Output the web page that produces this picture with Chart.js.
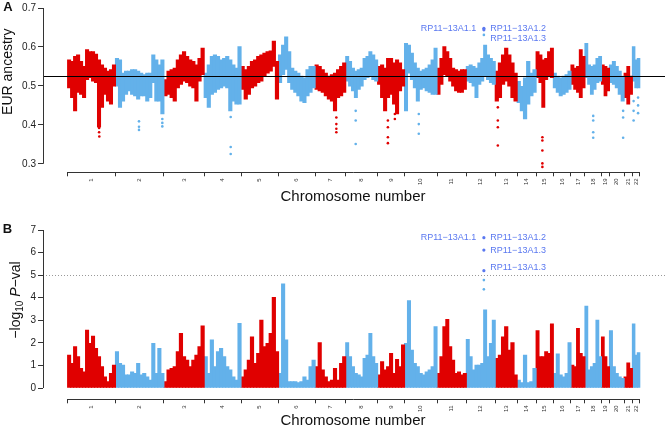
<!DOCTYPE html>
<html>
<head>
<meta charset="utf-8">
<title>EUR ancestry / admixture mapping</title>
<script src="https://cdn.jsdelivr.net/npm/chart.js@4.4.1/dist/chart.umd.min.js"></script>
<style>
  body { margin: 0; background: #fff; }
  #wrap { position: relative; width: 667px; height: 429px; }
  canvas { position: absolute; left: 0; }
</style>
</head>
<body>
<div id="wrap">
  <canvas id="ancChart" width="667" height="210" style="top:0"></canvas>
  <canvas id="pChart" width="667" height="219" style="top:210px"></canvas>
</div>
<script>
// Chromosomes and their widths on the genome axis
const chromosomes = ['1','2','3','4','5','6','7','8','9','10','11','12','13','14','15','16','17','18','19','20','21','22'];
const chrSizes = [48, 48.6, 40.4, 37, 37.6, 36.7, 30.7, 32, 27, 32.6, 29.4, 29, 22, 19, 17.3, 17.7, 14, 16.6, 8, 14.7, 8.3, 7.4];

// Panel A: EUR ancestry, upper and lower edge of the point cloud per window
const ancHi = [
  [0.567,0.563,0.576,0.580,0.563,0.550,0.593,0.588,0.588,0.582,0.567,0.554,0.546,0.538,0.542,0.554],
  [0.571,0.567,0.533,0.538,0.538,0.542,0.542,0.538,0.533,0.529,0.533,0.533,0.580,0.567,0.554,0.567],
  [0.516,0.538,0.542,0.546,0.567,0.580,0.588,0.576,0.567,0.563,0.554,0.571,0.597],
  [0.533,0.554,0.576,0.580,0.576,0.567,0.571,0.576,0.567,0.554,0.546,0.601],
  [0.550,0.542,0.550,0.563,0.567,0.576,0.580,0.584,0.588,0.590,0.615,0.563],
  [0.580,0.605,0.626,0.588,0.546,0.538,0.533,0.525,0.521,0.542,0.550,0.550],
  [0.554,0.550,0.542,0.533,0.525,0.529,0.533,0.542,0.550,0.559],
  [0.576,0.563,0.546,0.538,0.542,0.546,0.571,0.576,0.588,0.580,0.567],
  [0.550,0.554,0.546,0.571,0.571,0.559,0.567,0.559,0.542],
  [0.609,0.605,0.584,0.559,0.546,0.538,0.542,0.546,0.554,0.567,0.597],
  [0.546,0.571,0.601,0.588,0.571,0.546,0.542,0.538,0.542,0.542],
  [0.550,0.554,0.550,0.546,0.559,0.571,0.605,0.580,0.571,0.563],
  [0.538,0.559,0.580,0.597,0.580,0.559,0.533],
  [0.512,0.499,0.521,0.563,0.533,0.542],
  [0.588,0.580,0.567,0.571,0.588,0.597],
  [0.533,0.525,0.521,0.525,0.529,0.538],
  [0.554,0.546,0.550,0.593,0.576],
  [0.609,0.554,0.550,0.554,0.571,0.576],
  [0.554,0.550,0.546],
  [0.554,0.563,0.550,0.538,0.525],
  [0.533,0.550,0.525],
  [0.601,0.567,0.571]
];
const ancLo = [
  [0.495,0.470,0.436,0.483,0.478,0.470,0.516,0.521,0.512,0.508,0.394,0.445,0.478,0.461,0.453,0.499],
  [0.499,0.445,0.461,0.478,0.487,0.478,0.474,0.466,0.474,0.474,0.461,0.470,0.508,0.461,0.461,0.428],
  [0.474,0.478,0.470,0.461,0.495,0.504,0.512,0.508,0.499,0.495,0.461,0.512,0.529],
  [0.470,0.445,0.478,0.483,0.491,0.495,0.499,0.495,0.436,0.461,0.453,0.453],
  [0.491,0.466,0.478,0.495,0.499,0.508,0.512,0.525,0.533,0.538,0.550,0.466],
  [0.508,0.529,0.542,0.508,0.491,0.483,0.474,0.461,0.457,0.474,0.483,0.495],
  [0.491,0.487,0.483,0.474,0.466,0.461,0.436,0.470,0.474,0.483],
  [0.512,0.499,0.487,0.470,0.491,0.499,0.516,0.521,0.525,0.516,0.512],
  [0.504,0.470,0.436,0.470,0.478,0.453,0.428,0.487,0.499],
  [0.436,0.533,0.516,0.495,0.461,0.491,0.495,0.487,0.483,0.478,0.478],
  [0.478,0.504,0.529,0.525,0.512,0.499,0.487,0.483,0.483,0.491],
  [0.512,0.508,0.499,0.470,0.504,0.512,0.525,0.516,0.508,0.504],
  [0.461,0.470,0.504,0.512,0.499,0.470,0.461],
  [0.457,0.436,0.415,0.453,0.474,0.483],
  [0.521,0.508,0.445,0.516,0.525,0.521],
  [0.495,0.483,0.474,0.478,0.483,0.491],
  [0.504,0.491,0.483,0.470,0.495],
  [0.521,0.504,0.478,0.491,0.508,0.512],
  [0.504,0.474,0.487],
  [0.508,0.504,0.495,0.478,0.461],
  [0.470,0.453,0.478],
  [0.512,0.495,0.495]
];
// single SNPs lying away from the cloud (genome position, value, chromosome)
const ancOutX = [31.6,31.6,31.8, 71.6,71.6,71.6, 95,95,95, 163.6,163.6,163.6, 269.6,269.6,269.6,269.6, 289,289,289,
  321.3,321.3,321.3,321.3, 328.3,328.3, 352.3,352.3,352.3, 431.6,431.6,431.6,431.6, 476.3,476.3,476.3,476.3,476.3,
  527.3,527.3,527.3,527.3, 557.3,557.3,557.3, 567.8,567.8,567.8, 572.3,572.3,572.3, 417.6];
const ancOutY = [0.392,0.381,0.370, 0.409,0.395,0.387, 0.415,0.405,0.396, 0.420,0.343,0.325, 0.419,0.402,0.390,0.381, 0.436,0.411,0.351,
  0.411,0.394,0.368,0.353, 0.428,0.415, 0.428,0.402,0.377, 0.445,0.411,0.394,0.347, 0.368,0.360,0.334,0.301,0.292,
  0.423,0.411,0.381,0.367, 0.436,0.419,0.367, 0.461,0.436,0.411, 0.470,0.450,0.430, 0.631];
const ancOutChr = [1,1,1, 2,2,2, 2,2,2, 4,4,4, 7,7,7,7, 8,8,8, 9,9,9,9, 9,9, 10,10,10, 13,13,13,13, 15,15,15,15,15,
  18,18,18,18, 20,20,20, 22,22,22, 22,22,22, 12];

// Panel B: -log10 P, top of the point cloud per window
const logP = [
  [1.46,1.09,1.83,1.39,0.87,0.72,2.57,1.98,2.30,1.76,1.39,0.95,0.50,0.28,0.65,1.02],
  [1.61,1.09,1.02,0.58,0.58,0.72,0.65,1.09,0.58,0.65,0.50,0.35,1.98,0.65,1.76,0.65],
  [0.28,0.80,0.87,0.95,1.61,2.42,1.39,1.24,0.95,1.24,1.46,1.83,2.75],
  [1.39,0.65,2.13,0.95,1.61,1.76,1.39,0.95,0.80,0.50,0.35,2.87],
  [0.50,0.80,1.24,2.27,1.09,1.54,3.01,1.83,1.98,2.42,4.02,1.61],
  [0.65,4.61,2.13,0.28,0.28,0.28,0.24,0.28,0.50,0.35,0.95,1.24],
  [0.95,2.01,0.80,0.50,0.28,0.35,0.87,0.35,1.09,1.39],
  [2.01,1.39,0.95,0.65,0.58,0.50,1.31,1.46,2.42,1.39,1.09],
  [0.58,1.17,0.80,0.95,1.54,0.65,1.27,0.95,1.91],
  [1.98,3.87,1.68,1.09,0.95,0.65,0.58,0.72,0.80,0.95,2.72],
  [0.65,1.39,2.72,3.04,1.83,1.24,0.65,0.72,0.58,0.65],
  [2.16,1.39,0.80,1.02,1.02,1.09,3.46,1.39,1.98,3.01],
  [1.31,1.46,2.27,2.72,1.68,2.01,0.58],
  [0.35,0.24,1.46,0.24,0.28,0.87],
  [2.54,1.39,1.39,1.61,1.54,2.84],
  [0.65,1.51,0.58,0.50,0.65,2.01],
  [1.02,0.95,2.64,1.54,1.39],
  [3.63,0.80,0.95,1.09,3.01,1.39],
  [2.27,1.39,0.95],
  [2.54,0.95,0.65,0.50,0.43],
  [0.50,1.12,0.87],
  [2.84,1.46,1.57]
];
const logOutX = [417.6, 417.6];
const logOutY = [4.78, 4.37];
const logOutChr = [12, 12];

// RP11-13A1 hits and their labels
const hitX = 417.6;
const ancHitY = [0.648, 0.644];
const logHitY = [6.66, 6.11, 5.20];
const hitLabels = ['RP11\u221213A1.1', 'RP11\u221213A1.2', 'RP11\u221213A1.3', 'RP11\u221213A1.3'];
const labelSide = ['left', 'right', 'right', 'right'];
const ancLabelY = [0.6475, 0.6475, 0.622];
const logLabelY = [6.66, 6.66, 6.11, 5.33];

const ancTicks = [0.3, 0.4, 0.5, 0.6, 0.7];
const logTicks = [0, 1, 2, 3, 4, 5, 6, 7];
const ancMean = 0.524;
const pThreshold = 5;

const RED = '#e00000', BLUE = '#63b1ea', HIT = '#5a78f0';
const FONT = '"Liberation Sans", Arial, sans-serif';
const colorOf = i => (i % 2 === 0 ? RED : BLUE);

const chrStart = [];
const total = chrSizes.reduce((acc, s) => { chrStart.push(acc); return acc + s; }, 0);

Chart.defaults.font.family = FONT;
Chart.defaults.color = '#222';

// one bar dataset per chromosome (floating when lo is given)
function bandSets(hi, lo) {
  return chromosomes.map((name, i) => {
    const step = chrSizes[i] / hi[i].length;
    return {
      type: 'bar',
      order: 2,
      grouped: false,
      barThickness: step + 0.4,
      borderWidth: 0,
      backgroundColor: colorOf(i),
      data: hi[i].map((h, j) => ({ x: chrStart[i] + (j + 0.5) * step, y: lo ? [lo[i][j], h] : h }))
    };
  });
}

function pointSet(xs, ys, chrs) {
  return {
    type: 'scatter',
    order: 1,
    data: xs.map((x, k) => ({ x: x, y: ys[k] })),
    pointRadius: 1.3,
    pointBorderWidth: 0,
    pointBackgroundColor: chrs.map(c => colorOf(c - 1))
  };
}

function hitSet(ys) {
  return {
    type: 'scatter',
    order: 0,
    data: ys.map(y => ({ x: hitX, y: y })),
    pointRadius: 1.6,
    pointBorderWidth: 0,
    pointBackgroundColor: HIT
  };
}

// reference line, R-style axis lines, panel letter, y title, hit labels
const panelDecor = {
  id: 'panelDecor',
  afterDatasetsDraw(chart, args, o) {
    const { ctx, chartArea: a, scales: { y } } = chart;
    const py = Math.round(y.getPixelForValue(o.refValue) - 0.5) + 0.5;
    ctx.save();
    ctx.strokeStyle = o.refColor;
    ctx.lineWidth = 1;
    ctx.setLineDash(o.refDash);
    ctx.beginPath();
    ctx.moveTo(a.left, py);
    ctx.lineTo(o.refEnd, py);
    ctx.stroke();
    ctx.restore();
  },
  afterDraw(chart, args, o) {
    const { ctx, chartArea: a, scales: { x, y } } = chart;
    ctx.save();
    ctx.strokeStyle = '#333';
    ctx.lineWidth = 1;
    const ax = Math.round(a.left - 0.5) + 0.5;
    const ay = Math.round(a.bottom - 0.5) + 0.5;
    ctx.beginPath();
    ctx.moveTo(ax, y.getPixelForValue(o.ticks[0]));
    ctx.lineTo(ax, y.getPixelForValue(o.ticks[o.ticks.length - 1]));
    ctx.moveTo(x.getPixelForValue(0), ay);
    ctx.lineTo(x.getPixelForValue(total), ay);
    ctx.stroke();

    ctx.fillStyle = '#111';
    ctx.textAlign = 'center';
    ctx.textBaseline = 'middle';
    ctx.font = 'bold 13px ' + FONT;
    ctx.fillText(o.letter, o.letterX, o.letterY);

    o.drawTitle(ctx);

    ctx.fillStyle = HIT;
    ctx.font = '9px ' + FONT;
    const hx = x.getPixelForValue(hitX);
    o.labelY.forEach((v, k) => {
      const left = labelSide[k] === 'left';
      ctx.textAlign = left ? 'right' : 'left';
      ctx.fillText(hitLabels[k], hx + (left ? -7.5 : 6.4), y.getPixelForValue(v));
    });
    ctx.restore();
  }
};

function panelOptions(o) {
  return {
    responsive: false,
    animation: false,
    events: [],
    layout: { padding: { top: o.padTop, right: 2, left: 0, bottom: 0 } },
    plugins: { legend: { display: false }, tooltip: { enabled: false }, panelDecor: o },
    scales: {
      x: {
        type: 'linear',
        min: -24.7,
        max: total + 23.3,
        offset: false,
        afterBuildTicks: s => {
          const t = [];
          chrStart.forEach((st, i) => { t.push({ value: st }); t.push({ value: st + chrSizes[i] / 2 }); });
          t.push({ value: total });
          s.ticks = t;
        },
        afterFit: s => { s.height = o.xAxisHeight; },
        border: { display: false },
        grid: {
          offset: false,
          drawOnChartArea: false,
          tickLength: 4,
          tickWidth: 1,
          tickColor: c => (c.index % 2 ? 'rgba(0,0,0,0)' : '#333')
        },
        ticks: {
          autoSkip: false,
          minRotation: 90,
          maxRotation: 90,
          padding: 2,
          color: '#333',
          font: { size: 6 },
          callback: (v, i) => (i % 2 ? chromosomes[(i - 1) / 2] : '')
        },
        title: {
          display: true,
          text: 'Chromosome number',
          color: '#111',
          font: { size: 15, lineHeight: 1 },
          padding: { top: 0, bottom: o.titlePad }
        }
      },
      y: {
        min: o.yMin,
        max: o.yMax,
        afterBuildTicks: s => { s.ticks = o.ticks.map(v => ({ value: v })); },
        afterFit: s => { s.width = 43; },
        border: { display: false },
        grid: { drawOnChartArea: false, tickLength: 5, tickWidth: 1, tickColor: '#333' },
        ticks: { padding: 2, color: '#222', font: { size: 10 }, callback: o.fmt }
      }
    }
  };
}

// Panel A
new Chart(document.getElementById('ancChart'), {
  type: 'bar',
  data: {
    datasets: [hitSet(ancHitY), pointSet(ancOutX, ancOutY, ancOutChr)].concat(bandSets(ancHi, ancLo))
  },
  options: panelOptions({
    padTop: 6, xAxisHeight: 37.7, titlePad: 5.5,
    yMin: 0.2782, yMax: 0.7, ticks: ancTicks, fmt: v => v.toFixed(1),
    refValue: ancMean, refColor: '#000', refDash: [], refEnd: 665,
    letter: 'A', letterX: 8, letterY: 7.5,
    labelY: ancLabelY,
    drawTitle: ctx => {
      ctx.save();
      ctx.translate(8.5, 71.7);
      ctx.rotate(-Math.PI / 2);
      ctx.font = '14px ' + FONT;
      ctx.textAlign = 'center';
      ctx.fillText('EUR ancestry', 0, 0);
      ctx.restore();
    }
  }),
  plugins: [panelDecor]
});

// Panel B
new Chart(document.getElementById('pChart'), {
  type: 'bar',
  data: {
    datasets: [hitSet(logHitY), pointSet(logOutX, logOutY, logOutChr)].concat(bandSets(logP, null))
  },
  options: panelOptions({
    padTop: 20, xAxisHeight: 29.7, titlePad: 0.5,
    yMin: -0.5, yMax: 7, ticks: logTicks, fmt: v => String(v),
    refValue: pThreshold, refColor: '#999', refDash: [1, 2], refEnd: 667,
    letter: 'B', letterX: 7.5, letterY: 19.2,
    labelY: logLabelY,
    drawTitle: ctx => {
      const parts = [
        { t: '\u2212log', f: '14px ' + FONT, dy: 0 },
        { t: '10', f: '10px ' + FONT, dy: 4 },
        { t: ' ', f: '14px ' + FONT, dy: 0 },
        { t: 'P', f: 'italic 14px ' + FONT, dy: 0 },
        { t: '\u2212val', f: '14px ' + FONT, dy: 0 }
      ];
      ctx.save();
      ctx.translate(16, 90);
      ctx.rotate(-Math.PI / 2);
      ctx.textAlign = 'left';
      let w = 0;
      parts.forEach(p => { ctx.font = p.f; p.w = ctx.measureText(p.t).width; w += p.w; });
      let px = -w / 2;
      parts.forEach(p => { ctx.font = p.f; ctx.fillText(p.t, px, p.dy); px += p.w; });
      ctx.restore();
    }
  }),
  plugins: [panelDecor]
});
</script>
</body>
</html>
